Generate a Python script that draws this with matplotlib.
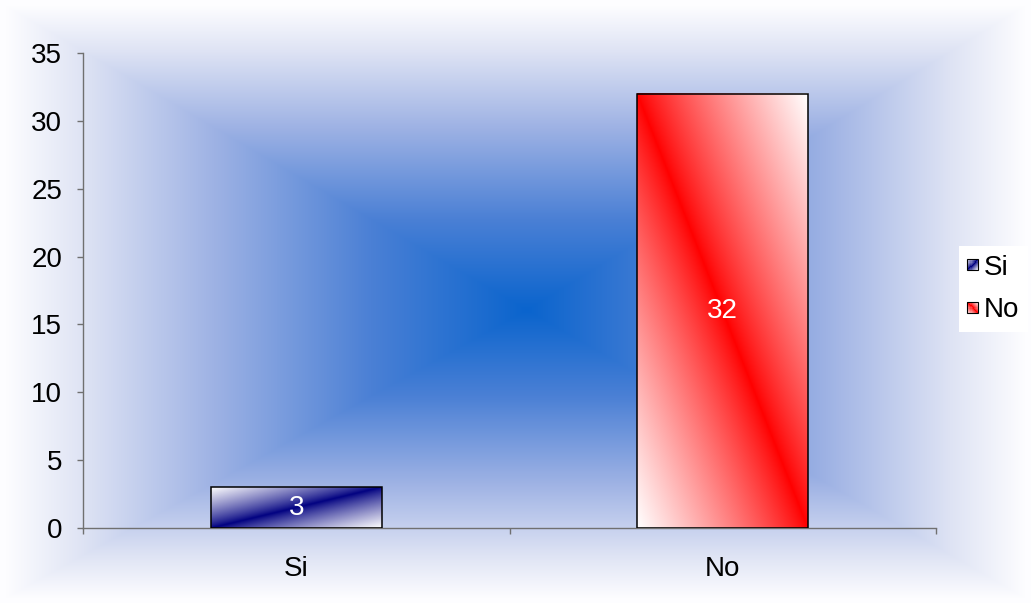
import numpy as np
import matplotlib
matplotlib.use("Agg")
import matplotlib.pyplot as plt
from matplotlib.patches import Rectangle
from matplotlib.legend_handler import HandlerBase

plt.rcParams['font.family'] = ['Liberation Sans', 'DejaVu Sans']

categories = ['Si', 'No']
values = [3, 32]
bar_labels = ['3', '32']
yticks = [0, 5, 10, 15, 20, 25, 30, 35]
bar_colors = [(0, 0, 128), (255, 0, 0)]
# diagonal direction of the dark stripe: 'up' = bottom-left to top-right
bar_diag = ['up', 'down']
FS = 20


def grad_rgb(base, diag, u, v):
    base = np.array(base) / 255.0
    if diag == 'up':
        s = np.abs(v - u)
    else:
        s = np.abs(u + v - 1)
    s = np.clip(s, 0, 1)[..., None] ** 0.85
    return base + (1 - base) * s


class GradHandler(HandlerBase):
    def __init__(self, base, diag):
        super().__init__()
        self.base = base
        self.diag = diag

    def create_artists(self, legend, orig_handle, xdescent, ydescent,
                       width, height, fontsize, trans):
        n = 10
        size = min(width, height)
        x0 = -xdescent + (width - size) / 2
        y0 = -ydescent + (height - size) / 2
        arts = []
        for i in range(n):
            for j in range(n):
                u = (i + 0.5) / n
                v = (j + 0.5) / n
                c = grad_rgb(self.base, self.diag, np.array(u), np.array(v))
                arts.append(Rectangle((x0 + i * size / n, y0 + j * size / n),
                                      size / n * 1.05, size / n * 1.05,
                                      facecolor=c, edgecolor='none',
                                      transform=trans))
        arts.append(Rectangle((x0, y0), size, size, facecolor='none',
                              edgecolor='black', linewidth=0.8,
                              transform=trans))
        return arts


fig = plt.figure(figsize=(10.31, 6.03), dpi=100)

# chart area "from center" gradient
bg = fig.add_axes([0, 0, 1, 1], zorder=0)
bg.axis('off')
H, W = 603, 1031
yy, xx = np.mgrid[0:H, 0:W] + 0.5
cx, cy = 527, 310
dx = np.where(xx < cx, (cx - xx) / (cx - 6), (xx - cx) / (1025 - cx))
dy = np.where(yy < cy, (cy - yy) / (cy - 6), (yy - cy) / (598 - cy))
t = np.clip(np.maximum(dx, dy), 0, 1)
stops = [0.0, 0.3, 0.6, 0.85, 1.0]
stop_cols = np.array([(10, 100, 205), (75, 128, 213), (158, 178, 228),
                      (222, 227, 244), (253, 253, 255)]) / 255.0
img = np.stack([np.interp(t, stops, stop_cols[:, k]) for k in range(3)], axis=-1)
bg.imshow(img, extent=[0, 1, 0, 1], aspect='auto', origin='upper')
bg.set_xlim(0, 1)
bg.set_ylim(0, 1)

ax = fig.add_axes([0.0805, 0.1244, 0.8274, 0.7877], zorder=1)
ax.patch.set_alpha(0)

x = np.arange(len(categories))
width = 0.4
bars = ax.bar(x, values, width=width, facecolor='none', edgecolor='black',
              linewidth=1.1, zorder=3)

gv, gu = np.mgrid[0:200, 0:200] / 199.0
for b, col, dg in zip(bars, bar_colors, bar_diag):
    bx, bw, bh = b.get_x(), b.get_width(), b.get_height()
    ax.imshow(grad_rgb(col, dg, gu, gv), extent=[bx, bx + bw, 0, bh],
              origin='lower', aspect='auto', interpolation='bilinear', zorder=2)

for xi, v, lab in zip(x, values, bar_labels):
    ax.text(xi, v / 2, lab, color='white', ha='center', va='center',
            fontsize=FS, zorder=4)

ax.set_xlim(-0.5, len(categories) - 0.5)
ax.set_ylim(0, 35)
ax.set_yticks(yticks)
ax.set_xticks(np.arange(len(categories) + 1) - 0.5)
ax.set_xticklabels([])
ax.set_xticks(x, minor=True)
ax.set_xticklabels(categories, minor=True)
ax.tick_params(axis='x', which='major', direction='out', length=4.3,
               width=1, color='#707070')
ax.tick_params(axis='x', which='minor', length=0, pad=20, labelsize=FS)
ax.tick_params(axis='y', direction='out', length=4.3, width=1,
               color='#707070', pad=10.8, labelsize=FS)
for s in ['top', 'right']:
    ax.spines[s].set_visible(False)
for s in ['left', 'bottom']:
    ax.spines[s].set_color('#707070')
    ax.spines[s].set_linewidth(1)

handles = [Rectangle((0, 0), 1, 1) for _ in categories]
hmap = {h: GradHandler(c, d) for h, c, d in zip(handles, bar_colors, bar_diag)}
leg = fig.legend(handles, categories, handler_map=hmap, loc='center left',
                 bbox_to_anchor=(0.93, 0.5207), frameon=True, fancybox=False,
                 facecolor='white', edgecolor='none', framealpha=1,
                 fontsize=FS, handlelength=0.4, handleheight=0.4,
                 handletextpad=0.2, labelspacing=0.6, borderpad=0.3,
                 borderaxespad=0)

fig.savefig('out.png', dpi=100)
